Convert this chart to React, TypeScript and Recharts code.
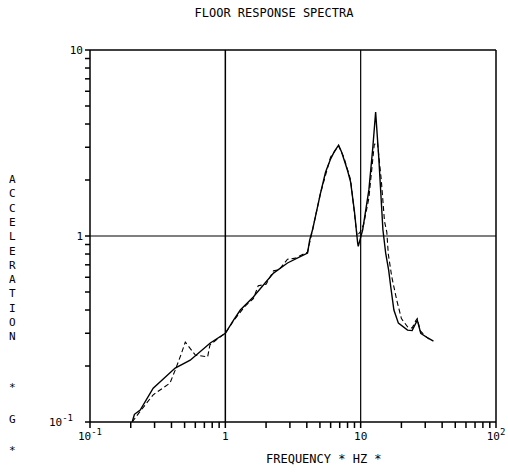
import React from "react"
import { LineChart, Line, XAxis, YAxis, ReferenceLine } from "recharts"

const solidF = [0.205, 0.213, 0.235, 0.293, 0.426, 0.55, 0.774, 1.0, 1.15, 1.29, 1.61, 2.27, 2.88, 4.05, 4.2, 4.41, 5.05, 5.5, 6.0, 6.4, 6.87, 7.2, 7.5, 8.0, 8.43, 9.0, 9.5, 9.6, 10.35, 11.5, 12.3, 12.9, 13.6, 14.6, 15.3, 16.1, 16.7, 17.6, 19.0, 22.2, 24.0, 26.2, 27.8, 31.3, 34.5]
const solidA = [0.1, 0.11, 0.116, 0.152, 0.195, 0.215, 0.266, 0.3, 0.353, 0.4, 0.47, 0.632, 0.716, 0.81, 0.95, 1.08, 1.7, 2.2, 2.6, 2.85, 3.08, 2.85, 2.6, 2.25, 1.95, 1.35, 0.917, 0.88, 1.08, 1.77, 3.0, 4.64, 2.66, 1.08, 0.81, 0.656, 0.53, 0.4, 0.34, 0.312, 0.31, 0.353, 0.3, 0.283, 0.272]

const dashedF = [0.205, 0.23, 0.293, 0.39, 0.426, 0.47, 0.506, 0.6, 0.74, 0.77, 0.85, 1.0, 1.15, 1.4, 1.61, 1.75, 2.0, 2.27, 2.5, 2.88, 3.3, 4.05, 4.41, 5.05, 6.0, 6.87, 7.5, 8.43, 9.4, 9.9, 10.5, 11.5, 12.6, 13.3, 14.2, 15.0, 15.6, 16.0, 17.0, 18.5, 20.0, 22.2, 24.0, 25.5, 26.2, 27.5, 30.0, 33.0]
const dashedA = [0.1, 0.112, 0.14, 0.162, 0.19, 0.23, 0.269, 0.229, 0.224, 0.26, 0.275, 0.3, 0.35, 0.42, 0.46, 0.54, 0.55, 0.65, 0.66, 0.75, 0.76, 0.82, 1.08, 1.7, 2.66, 3.05, 2.66, 2.0, 1.0, 1.05, 1.15, 1.6, 3.1, 3.2, 2.0, 1.2, 1.05, 0.8, 0.6, 0.45, 0.36, 0.325, 0.32, 0.35, 0.36, 0.31, 0.29, 0.275]

const xTicks = [0.1, 0.2, 0.3, 0.4, 0.5, 0.6, 0.7, 0.8, 0.9, 1, 2, 3, 4, 5, 6, 7, 8, 9, 10, 20, 30, 40, 50, 60, 70, 80, 90, 100]
const yTicks = [0.1, 0.2, 0.3, 0.4, 0.5, 0.6, 0.7, 0.8, 0.9, 1, 2, 3, 4, 5, 6, 7, 8, 9, 10]
const yLabelChars = ["A", "C", "C", "E", "L", "E", "R", "A", "T", "I", "O", "N"]

const solid = solidF.map((f, i) => ({ f, a: solidA[i] }))
const dashed = dashedF.map((f, i) => ({ f, a: dashedA[i] }))

const font = "'DejaVu Sans Mono', monospace"

function decadeLabel(v: number) {
  if (Math.abs(v - 0.1) < 1e-9) return ["10", "-1"]
  if (Math.abs(v - 1) < 1e-9) return ["1", ""]
  if (Math.abs(v - 10) < 1e-9) return ["10", ""]
  if (Math.abs(v - 100) < 1e-9) return ["10", "2"]
  return null
}

const XTick = (props: any) => {
  const { x, y, payload } = props
  const lab = decadeLabel(payload.value)
  if (!lab) return null
  return (
    <text x={x} y={y + 10} textAnchor="middle" fontFamily={font} fontSize={11} fill="#000">
      {lab[0]}
      {lab[1] && <tspan dy={-5} fontSize={9}>{lab[1]}</tspan>}
    </text>
  )
}

const YTick = (props: any) => {
  const { x, y, payload } = props
  const lab = decadeLabel(payload.value)
  if (!lab) return null
  return (
    <text x={x - (lab[1] ? 10 : 0)} y={y + 4} textAnchor="end" fontFamily={font} fontSize={11} fill="#000">
      {lab[0]}
      {lab[1] && <tspan dy={-5} fontSize={9}>{lab[1]}</tspan>}
    </text>
  )
}

export default function App() {
  return (
    <div style={{ position: "absolute", left: 0, top: 0, width: 508, height: 476, background: "#fff", fontFamily: font }}>
      <div style={{ position: "absolute", left: 0, width: 548, top: 6, textAlign: "center", fontSize: 12 }}>
        FLOOR RESPONSE SPECTRA
      </div>
      <div style={{ position: "absolute", left: 266, top: 452, fontSize: 12 }}>FREQUENCY * HZ *</div>
      {yLabelChars.map((c, i) => (
        <div key={i} style={{ position: "absolute", left: 9, top: 173 + i * 14.3, fontSize: 11 }}>{c}</div>
      ))}
      <div style={{ position: "absolute", left: 9, top: 381, fontSize: 11 }}>*</div>
      <div style={{ position: "absolute", left: 9, top: 413, fontSize: 11 }}>G</div>
      <div style={{ position: "absolute", left: 9, top: 444, fontSize: 11 }}>*</div>
      <div style={{ position: "absolute", left: 0, top: 0 }}>
        <LineChart width={508} height={476} margin={{ top: 50, right: 12, bottom: 24, left: 0 }}>
          <XAxis
            dataKey="f"
            type="number"
            scale="log"
            domain={[0.1, 100]}
            allowDataOverflow
            ticks={xTicks}
            interval={0}
            tick={<XTick />}
            tickSize={6}
            height={30}
            stroke="#000"
            strokeWidth={1.5}
          />
          <YAxis
            dataKey="a"
            type="number"
            scale="log"
            domain={[0.1, 10]}
            allowDataOverflow
            ticks={yTicks}
            interval={0}
            tick={<YTick />}
            tickSize={5}
            width={90}
            stroke="#000"
            strokeWidth={1.5}
          />
          <ReferenceLine x={1} stroke="#000" strokeWidth={1.5} />
          <ReferenceLine x={10} stroke="#000" strokeWidth={1.2} />
          <ReferenceLine x={100} stroke="#000" strokeWidth={1.5} />
          <ReferenceLine y={1} stroke="#000" strokeWidth={1.2} />
          <ReferenceLine y={10} stroke="#000" strokeWidth={1.5} />
          <Line data={solid} dataKey="a" stroke="#000" strokeWidth={1.4} dot={false} isAnimationActive={false} type="linear" />
          <Line data={dashed} dataKey="a" stroke="#000" strokeWidth={1.1} strokeDasharray="5 3" dot={false} isAnimationActive={false} type="linear" />
        </LineChart>
      </div>
    </div>
  )
}
